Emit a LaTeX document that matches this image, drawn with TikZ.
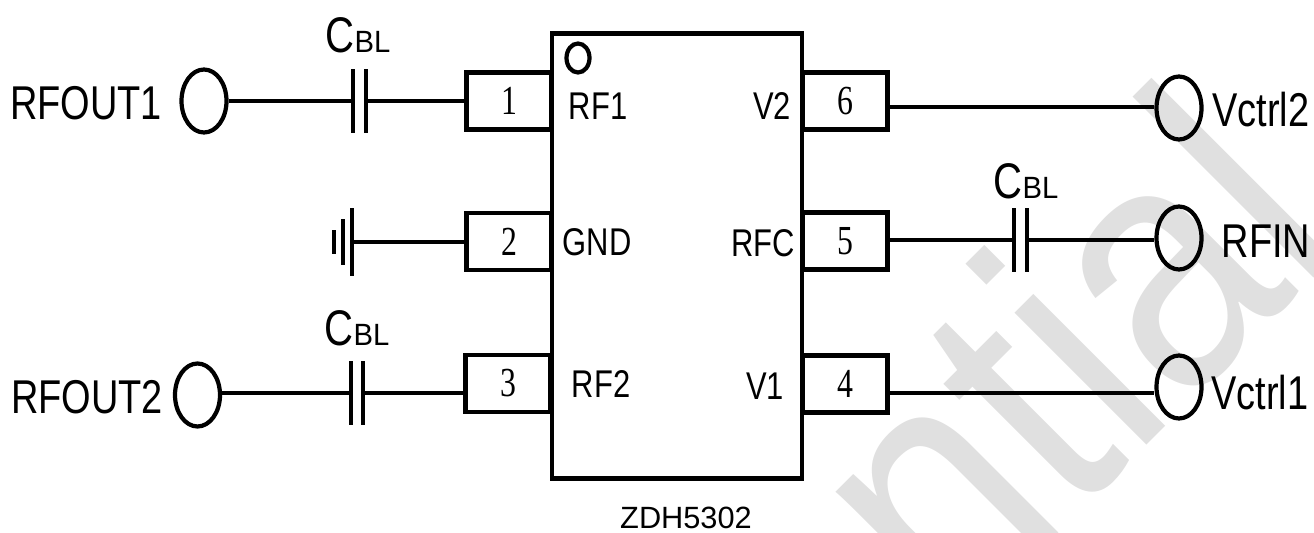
\documentclass[tikz,border=0pt]{standalone}
\usepackage{fontspec}
\usepackage{tikz}
\usetikzlibrary{shapes,calc}
\setmainfont{Liberation Sans}
\newfontfamily\narrowfont[FakeStretch=0.8]{Liberation Sans}
\newfontfamily\pinfont[FakeStretch=0.77]{Liberation Serif}
\newfontfamily\markfont[FakeStretch=0.86]{Liberation Sans}
\newfontfamily\capfont[FakeStretch=0.95]{Liberation Sans}
\definecolor{mark}{HTML}{E0E0E0}
\tikzstyle{wire}=[line width=2.4pt]
\tikzstyle{lbl}=[inner sep=0pt,font=\narrowfont\fontsize{27}{27}\selectfont]
\tikzstyle{lblsmall}=[inner sep=0pt,font=\narrowfont\fontsize{22}{22}\selectfont]
\tikzstyle{pinbox}=[rectangle,draw,line width=2.4pt,minimum width=1.7cm,minimum height=1.14cm,inner sep=0pt,font=\pinfont\fontsize{23.5}{23.5}\selectfont]
\tikzstyle{term}=[ellipse,draw,line width=2.4pt,minimum width=0.9cm,minimum height=1.26cm,inner sep=0pt]
\tikzstyle{plate}=[rectangle,fill=black,minimum width=2.4pt,minimum height=1.28cm,inner sep=0pt]
\newcommand{\cbl}{{\fontsize{28.5}{28.5}\selectfont C}{\capfont\fontsize{17.5}{17.5}\selectfont BL}}
\begin{document}
\begin{tikzpicture}[x=0.02cm,y=-0.02cm]
\useasboundingbox (0,0) rectangle (1314,533);
\begin{scope}
\clip (0,0) rectangle (1314,533);
\node[rotate=45,anchor=base west,inner sep=0pt,text=mark,font=\markfont\fontsize{201}{201}\selectfont] (mk) at (953,639) {ntial};
\end{scope}
% chip
\node[rectangle,draw,line width=2.4pt,minimum width=5cm,minimum height=8.9cm,inner sep=0pt] (ic) at (677,256) {};
\node[ellipse,draw,line width=2.4pt,minimum width=0.46cm,minimum height=0.58cm,inner sep=0pt] (dot) at (578,58) {};
\node[inner sep=0pt,font=\fontsize{17.5}{17.5}\selectfont] (name) at (686,518) {ZDH5302};
% pins
\node[pinbox] (p1) at (509,101) {1};
\node[pinbox] (p2) at (509,241.5) {2};
\node[pinbox] (p3) at (508,383.5) {3};
\node[pinbox] (p4) at (845,384) {4};
\node[pinbox] (p5) at (845,241) {5};
\node[pinbox] (p6) at (845,101) {6};
\node[lblsmall] (rf1) at (598,106) {RF1};
\node[lblsmall] (gnd) at (597,242) {GND};
\node[lblsmall] (rf2) at (601,384) {RF2};
\node[lblsmall] (v1) at (765,386) {V1};
\node[lblsmall] (rfc) at (763,243) {RFC};
\node[lblsmall] (v2) at (772,106) {V2};
% terminals
\node[term] (t1) at (204,101) {};
\node[term] (t3) at (197.5,395) {};
\node[term] (t4) at (1179,387) {};
\node[term] (t5) at (1179,238) {};
\node[term] (t6) at (1179,108) {};
\node[lbl] (rfout1) at (86,103) {RFOUT1};
\node[lbl] (rfout2) at (87,397) {RFOUT2};
\node[lbl] (vctrl1) at (1260,393) {Vctrl1};
\node[lbl] (vctrl2) at (1261,110) {Vctrl2};
\node[lbl] (rfin) at (1266,241) {RFIN};
% capacitors
\node[plate] (c1a) at (353,101) {};
\node[plate] (c1b) at (366,101) {};
\node[plate] (c3a) at (351,393) {};
\node[plate] (c3b) at (363,393) {};
\node[plate] (c5a) at (1014,240) {};
\node[plate] (c5b) at (1027,240) {};
\node[lbl] (cbl1) at (358,35) {\cbl};
\node[lbl] (cbl3) at (357,328) {\cbl};
\node[lbl] (cbl5) at (1026,181) {\cbl};
\coordinate (a3) at (p3.west |- 0,393);
\coordinate (b3) at (t3.east |- 0,393);
\coordinate (a5) at (p5.east |- 0,240);
\coordinate (b5) at (t5.west |- 0,240);
\draw[wire] (t1.east) -- (c1a.west);
\draw[wire] (c1b.east) -- (p1.west);
\draw[wire] (b3) -- (c3a.west);
\draw[wire] (c3b.east) -- (a3);
\draw[wire] (a5) -- (c5a.west);
\draw[wire] (c5b.east) -- (b5);
% ground
\node[plate,minimum height=1.38cm] (g1) at (352,242) {};
\node[plate,minimum height=0.94cm] (g2) at (343,242) {};
\node[plate,minimum height=0.5cm] (g3) at (334,242) {};
\coordinate (a2) at (p2.west |- 0,242);
\draw[wire] (g1.east) -- (a2);
% control lines
\coordinate (a6) at (p6.east |- 0,107);
\coordinate (b6) at (t6.west |- 0,107);
\coordinate (a4) at (p4.east |- 0,393);
\coordinate (b4) at (t4.west |- 0,393);
\draw[wire] (a6) -- (b6);
\draw[wire] (a4) -- (b4);
\end{tikzpicture}
\end{document}
